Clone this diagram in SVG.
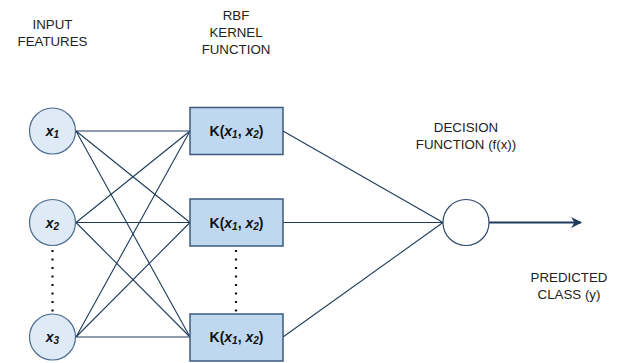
<svg xmlns="http://www.w3.org/2000/svg" width="619" height="363" viewBox="0 0 619 363">
<defs>
<style>
.lbl{font-family:"Liberation Sans",Arial,sans-serif;font-size:13.3px;fill:#222;text-anchor:middle}
.nt{font-family:"Liberation Sans",Arial,sans-serif;font-size:14px;font-weight:bold;fill:#111;text-anchor:middle}
.in{fill:#dfeaf7;stroke:#4b6a8e;stroke-width:1.2}
.k{fill:#bfd8f0;stroke:#3d5a7e;stroke-width:1.5}
.c{stroke:#1f3b5c;stroke-width:1.1;fill:none}
.dot{stroke:#111;stroke-width:2.2;stroke-dasharray:2 6.5;fill:none}
</style>
<marker id="ah" viewBox="0 0 10 10" refX="9" refY="5" markerWidth="5.5" markerHeight="5.5" orient="auto" markerUnits="strokeWidth">
<path d="M0,0 L10,5 L0,10 L3,5 Z" fill="#1f3b5c"/>
</marker>
</defs>
<rect width="619" height="363" fill="#fff"/>
<g id="connectors">
<path class="c" d="M76,131 L190,131 M76,131 L190,222.5 M76,131 L190,337"/>
<path class="c" d="M76,222.5 L190,131 M76,222.5 L190,222.5 M76,222.5 L190,337"/>
<path class="c" d="M76,337 L190,131 M76,337 L190,222.5 M76,337 L190,337"/>
<path class="c" d="M283,131 L443,222.5 M283,222.5 L443,222.5 M283,337 L443,222.5"/>
<path d="M489,222.5 L581,222.5" stroke="#1f3b5c" stroke-width="2" fill="none" marker-end="url(#ah)"/>
<path class="dot" d="M52.5,250 L52.5,314"/>
<path class="dot" d="M236,250 L236,314"/>
</g>
<g id="label-input"><text class="lbl" x="52.5" y="29">INPUT</text><text class="lbl" x="52.5" y="46">FEATURES</text></g>
<g id="label-rbf"><text class="lbl" x="236" y="20">RBF</text><text class="lbl" x="236" y="37">KERNEL</text><text class="lbl" x="236" y="54">FUNCTION</text></g>
<g id="label-decision"><text class="lbl" x="466" y="132">DECISION</text><text class="lbl" x="466" y="149">FUNCTION (f(x))</text></g>
<g id="label-predicted"><text class="lbl" x="569" y="282">PREDICTED</text><text class="lbl" x="569" y="299">CLASS (y)</text></g>
<g id="x1"><circle class="in" cx="52.5" cy="131" r="23"/><text class="nt" x="52.5" y="136"><tspan font-style="italic">x</tspan><tspan font-style="italic" font-size="10" dy="2">1</tspan></text></g>
<g id="x2"><circle class="in" cx="52.5" cy="222.5" r="23"/><text class="nt" x="52.5" y="227.5"><tspan font-style="italic">x</tspan><tspan font-style="italic" font-size="10" dy="2">2</tspan></text></g>
<g id="x3"><circle class="in" cx="52.5" cy="337" r="23"/><text class="nt" x="52.5" y="342"><tspan font-style="italic">x</tspan><tspan font-style="italic" font-size="10" dy="2">3</tspan></text></g>
<g id="k1"><rect class="k" x="190" y="107.5" width="93" height="47"/><text class="nt" x="236.5" y="136">K(<tspan font-style="italic">x</tspan><tspan font-style="italic" font-size="10" dy="2">1</tspan><tspan dy="-2">, </tspan><tspan font-style="italic">x</tspan><tspan font-style="italic" font-size="10" dy="2">2</tspan><tspan dy="-2">)</tspan></text></g>
<g id="k2"><rect class="k" x="190" y="199" width="93" height="47"/><text class="nt" x="236.5" y="227.5">K(<tspan font-style="italic">x</tspan><tspan font-style="italic" font-size="10" dy="2">1</tspan><tspan dy="-2">, </tspan><tspan font-style="italic">x</tspan><tspan font-style="italic" font-size="10" dy="2">2</tspan><tspan dy="-2">)</tspan></text></g>
<g id="k3"><rect class="k" x="190" y="314" width="93" height="47"/><text class="nt" x="236.5" y="342">K(<tspan font-style="italic">x</tspan><tspan font-style="italic" font-size="10" dy="2">1</tspan><tspan dy="-2">, </tspan><tspan font-style="italic">x</tspan><tspan font-style="italic" font-size="10" dy="2">2</tspan><tspan dy="-2">)</tspan></text></g>
<g id="decision"><circle cx="466" cy="222.5" r="23" fill="#fff" stroke="#2f4a6b" stroke-width="1.2"/></g>
</svg>
